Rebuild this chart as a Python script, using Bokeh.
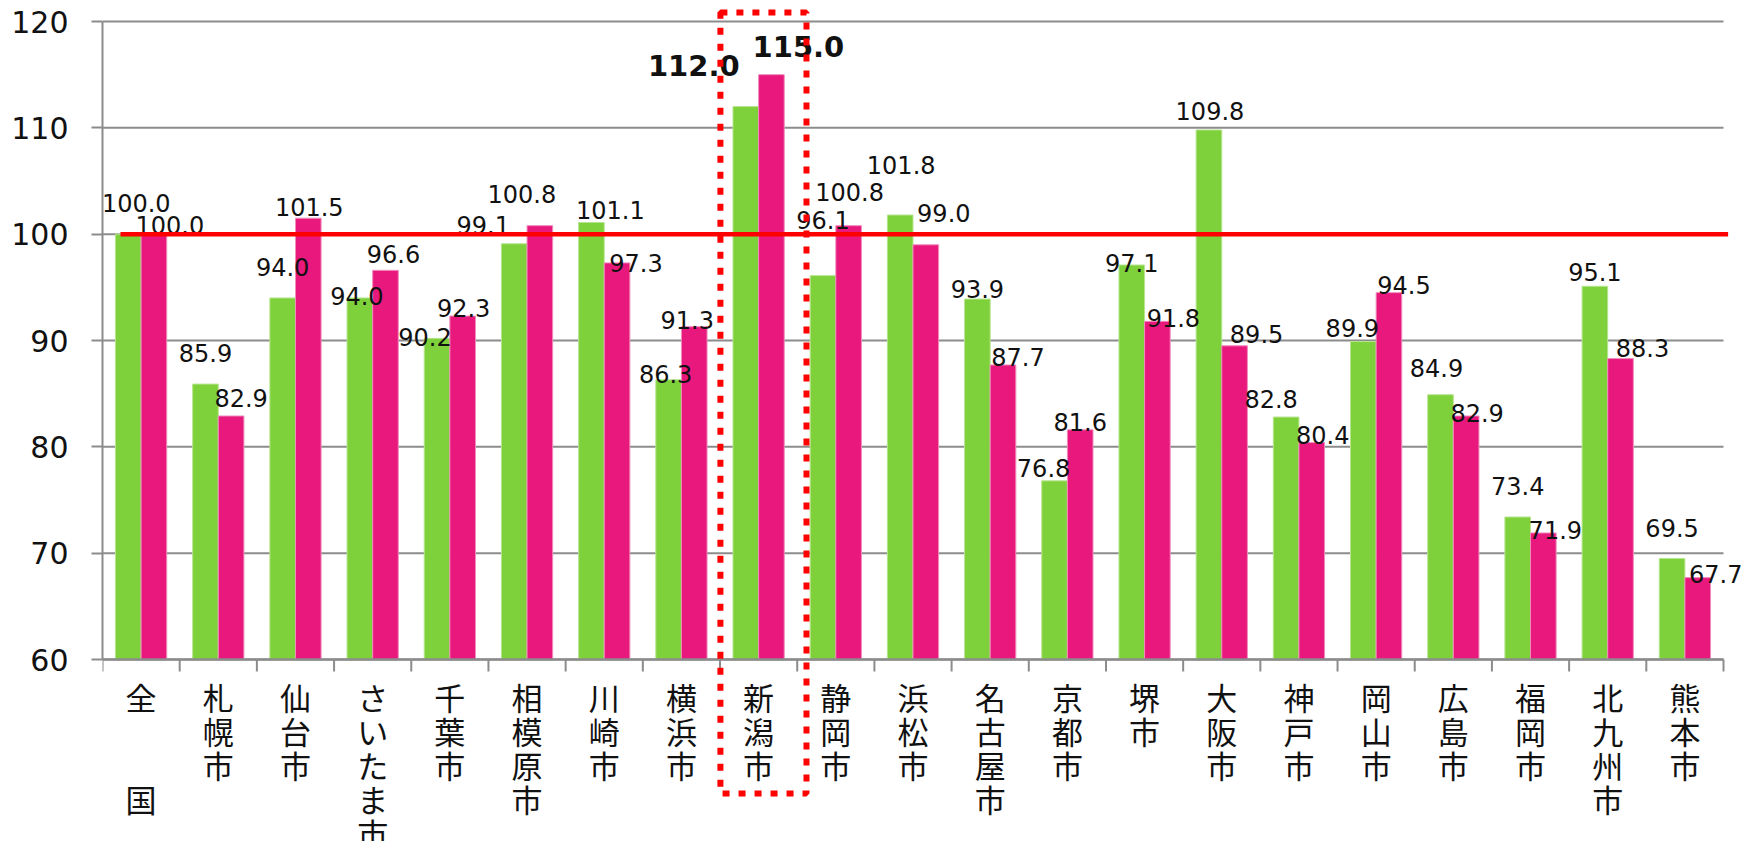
from bokeh.plotting import figure
from bokeh.models import ColumnDataSource, LabelSet, Range1d, FixedTicker, BoxAnnotation
from bokeh.embed import file_html
from bokeh.resources import INLINE
from bokeh.core.properties import value

# ---------------- data ----------------
categories = ["全国", "札幌市", "仙台市", "さいたま市", "千葉市", "相模原市", "川崎市",
              "横浜市", "新潟市", "静岡市", "浜松市", "名古屋市", "京都市", "堺市",
              "大阪市", "神戸市", "岡山市", "広島市", "福岡市", "北九州市", "熊本市"]
series_green = [100.0, 85.9, 94.0, 94.0, 90.2, 99.1, 101.1, 86.3, 112.0, 96.1, 101.8,
                93.9, 76.8, 97.1, 109.8, 82.8, 89.9, 84.9, 73.4, 95.1, 69.5]
series_pink = [100.0, 82.9, 101.5, 96.6, 92.3, 100.8, 97.3, 91.3, 115.0, 100.8, 99.0,
               87.7, 81.6, 91.8, 89.5, 80.4, 94.5, 82.9, 71.9, 88.3, 67.7]
y_ticks = [60, 70, 80, 90, 100, 110, 120]
reference_value = 100
highlight = "新潟市"

# ---------------- style ----------------
GREEN = "#7ED13B"
PINK = "#E8187C"
GRID = "#8C8C8C"
RED = "#FF0000"
NUM_FONT = "DejaVu Sans"
JP_FONT = "Noto Sans CJK JP"
PX_PER_UNIT = 638 / 60.0        # vertical pixels per data unit
LEFT = 102                      # room for the y axis
FRAME_W, FRAME_H = 1648, 841    # plot frame size in px
TOP_PAD_PX = 21                 # space above the top grid line

# label placement offsets in px (x right, y up) relative to the top of each bar
green_dx = [8, 0, 0, -3, -12, -31, 19, -3, -52, 0, 1, 0, -11, 0, 1, -15, -11, -4, 0, 0, 0]
green_dy = [31, 31, 31, 2, 1, 19, 12, 6, 41, 56, 50, 10, 13, 2, 19, 18, 14, 27, 31, 14, 30]
pink_dx = [16, 10, 1, 8, 1, -18, 19, -7, 27, 1, 18, 15, 0, 16, 22, 11, 15, 11, 12, 22, 18]
pink_dy = [9, 18, 11, 16, 8, 32, 0, 7, 28, 34, 32, 8, 8, 3, 12, 8, 8, 3, 3, 11, 4]

n = len(categories)
y_min, y_max = y_ticks[0], y_ticks[-1]
centers = [i + 0.5 for i in range(n)]
bw = 0.332
hi = categories.index(highlight)
cat_px = 1621 / n                              # px per category
top_pad = TOP_PAD_PX / PX_PER_UNIT
y_lo = y_max + top_pad - FRAME_H / PX_PER_UNIT
x_hi = FRAME_W / cat_px


def vertical(name):
    if name == "全国":
        return "全\n\n\n国"
    return "\n".join(name)


p = figure(width=LEFT + FRAME_W, height=FRAME_H, output_backend="svg", toolbar_location=None,
           x_range=Range1d(0, x_hi), y_range=Range1d(y_lo, y_max + top_pad),
           min_border_left=LEFT, min_border_right=0, min_border_top=0, min_border_bottom=0)
p.outline_line_color = None
p.background_fill_color = "white"
p.border_fill_color = "white"
p.xaxis.visible = False
p.xgrid.visible = False
p.ygrid.visible = False

# horizontal grid lines (only across the categories)
p.segment(x0=[0] * len(y_ticks), y0=y_ticks, x1=[n] * len(y_ticks), y1=y_ticks,
          line_color=GRID, line_width=2)

# bars
xg = [c - bw / 2 for c in centers]
xp = [c + bw / 2 for c in centers]
src = ColumnDataSource(dict(xg=xg, xp=xp, g=series_green, pk=series_pink))
p.vbar(x="xg", top="g", bottom=y_min, width=bw, fill_color=GREEN, line_color="#B7E58F",
       line_width=1, source=src)
p.vbar(x="xp", top="pk", bottom=y_min, width=bw, fill_color=PINK, line_color="#F08DBD",
       line_width=1, source=src)

# category axis line and boundary ticks
p.segment(x0=[0], y0=[y_min], x1=[n], y1=[y_min], line_color=GRID, line_width=2.5)
tick_len = 12 / PX_PER_UNIT
p.segment(x0=list(range(n + 1)), y0=[y_min] * (n + 1), x1=list(range(n + 1)),
          y1=[y_min - tick_len] * (n + 1), line_color=GRID, line_width=2)


# value labels
def label_source(xs, vals, dxs, dys, idx):
    return ColumnDataSource(dict(
        x=[xs[i] for i in idx], y=[vals[i] for i in idx],
        t=["%.1f" % vals[i] for i in idx],
        dx=[dxs[i] for i in idx], dy=[dys[i] for i in idx]))


normal_idx = [i for i in range(n) if i != hi]
bold_idx = [hi]
for xs, vals, dxs, dys in [(xg, series_green, green_dx, green_dy), (xp, series_pink, pink_dx, pink_dy)]:
    for idx, style, size in [(normal_idx, "normal", "24px"), (bold_idx, "bold", "29px")]:
        p.add_layout(LabelSet(x="x", y="y", text="t", x_offset="dx", y_offset="dy",
                              source=label_source(xs, vals, dxs, dys, idx),
                              text_align="center", text_baseline="middle",
                              text_font=value(NUM_FONT), text_font_size=size,
                              text_font_style=style, text_color="#111111"))

# reference line at 100
p.segment(x0=[0.233], y0=[reference_value], x1=[n + 0.06], y1=[reference_value],
          line_color=RED, line_width=4.5, level="overlay")

# dotted highlight box
box = BoxAnnotation(left=hi + 0.005, right=hi + 1.12, top=y_max + 9 / PX_PER_UNIT,
                    bottom=y_min - 134 / PX_PER_UNIT,
                    fill_color=None, fill_alpha=0, line_color=RED, line_alpha=1.0,
                    line_width=6, line_dash="7 9", level="overlay")
p.add_layout(box)

# category labels (vertical)
cat_src = ColumnDataSource(dict(x=centers, y=[y_min] * n, t=[vertical(c) for c in categories]))
p.add_layout(LabelSet(x="x", y="y", text="t", source=cat_src, y_offset=-14,
                      text_align="center", text_baseline="top",
                      text_font=value(JP_FONT), text_font_size="31px", text_line_height=0.76,
                      text_color="#111111"))

# y axis
p.yaxis.ticker = FixedTicker(ticks=y_ticks)
p.yaxis.bounds = (y_min, y_max)
p.yaxis.major_tick_out = 11
p.yaxis.major_tick_in = 0
p.yaxis.minor_tick_line_color = None
p.yaxis.axis_line_color = GRID
p.yaxis.axis_line_width = 2
p.yaxis.major_tick_line_color = GRID
p.yaxis.major_tick_line_width = 2
p.yaxis.major_label_standoff = 23
p.yaxis.major_label_text_font = NUM_FONT
p.yaxis.major_label_text_font_size = "30px"
p.yaxis.major_label_text_color = "#111111"

open("out.html", "w").write(file_html(p, INLINE))
